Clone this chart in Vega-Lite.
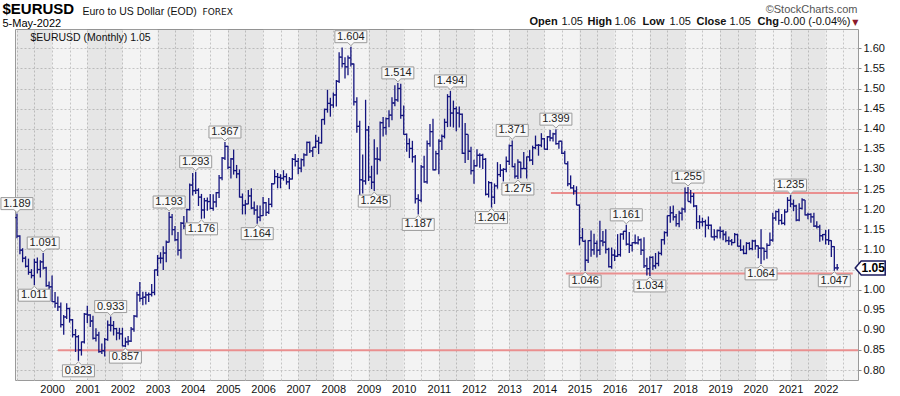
{
"$schema":"https://vega.github.io/schema/vega-lite/v6.json",
"width":843,"height":351,
"autosize":{"type":"none"},
"padding":{"left":15,"top":29,"right":42,"bottom":16},
"background":"#ffffff",
"config":{"view":{"fill":"#f3f3f3","stroke":"#9a9a9a","strokeWidth":1},"font":"Liberation Sans",
 "axis":{"titleAngle":0,"titleBaseline":"alphabetic","titleAlign":"left","titleFont":"Liberation Sans","titleFontSize":11,"titleFontWeight":"normal","titleColor":"#111"}},
"resolve":{"axis":{"x":"independent","y":"independent"}},
"datasets":{
"bands":[{"s":"1999-01-01","e":"2000-01-01"},{"s":"2001-01-01","e":"2002-01-01"},{"s":"2003-01-01","e":"2004-01-01"},{"s":"2005-01-01","e":"2006-01-01"},{"s":"2007-01-01","e":"2008-01-01"},{"s":"2009-01-01","e":"2010-01-01"},{"s":"2011-01-01","e":"2012-01-01"},{"s":"2013-01-01","e":"2014-01-01"},{"s":"2015-01-01","e":"2016-01-01"},{"s":"2017-01-01","e":"2018-01-01"},{"s":"2019-01-01","e":"2020-01-01"},{"s":"2021-01-01","e":"2022-01-01"}],
"trend":[{"s":"2000-03-01","e":"2022-12-03","v":0.849},{"s":"2014-03-10","e":"2022-12-03","v":1.24},{"s":"2014-08-12","e":"2022-10-10","v":1.04}],
"hi":[{"d":"1999-01","v":1.189},{"d":"1999-10","v":1.091},{"d":"2001-09","v":0.933},{"d":"2003-05","v":1.193},{"d":"2004-02","v":1.293},{"d":"2004-12","v":1.367},{"d":"2008-07","v":1.604},{"d":"2009-11","v":1.514},{"d":"2011-05","v":1.494},{"d":"2013-02","v":1.371},{"d":"2014-05","v":1.399},{"d":"2016-05","v":1.161},{"d":"2018-02","v":1.255},{"d":"2021-01","v":1.235}],
"lo":[{"d":"1999-07","v":1.011},{"d":"2000-10","v":0.823},{"d":"2002-02","v":0.857},{"d":"2004-04","v":1.176},{"d":"2005-11","v":1.164},{"d":"2009-03","v":1.245},{"d":"2010-06","v":1.187},{"d":"2012-07","v":1.204},{"d":"2013-04","v":1.275},{"d":"2015-03","v":1.046},{"d":"2017-01","v":1.034},{"d":"2020-03","v":1.064},{"d":"2022-04","v":1.047}],
"last":[{"d":"2022-05","c":1.054}],
"ohlc":[
{"d":"1999-01","o":1.179,"h":1.189,"l":1.128,"c":1.133},
{"d":"1999-02","o":1.133,"h":1.135,"l":1.088,"c":1.098},
{"d":"1999-03","o":1.098,"h":1.103,"l":1.068,"c":1.078},
{"d":"1999-04","o":1.078,"h":1.083,"l":1.055,"c":1.058},
{"d":"1999-05","o":1.058,"h":1.077,"l":1.037,"c":1.043},
{"d":"1999-06","o":1.043,"h":1.051,"l":1.028,"c":1.035},
{"d":"1999-07","o":1.035,"h":1.077,"l":1.011,"c":1.068},
{"d":"1999-08","o":1.068,"h":1.080,"l":1.040,"c":1.050},
{"d":"1999-09","o":1.050,"h":1.073,"l":1.030,"c":1.069},
{"d":"1999-10","o":1.069,"h":1.091,"l":1.050,"c":1.054},
{"d":"1999-11","o":1.054,"h":1.057,"l":1.007,"c":1.010},
{"d":"1999-12","o":1.010,"h":1.020,"l":0.998,"c":1.007},
{"d":"2000-01","o":1.007,"h":1.035,"l":0.969,"c":0.970},
{"d":"2000-02","o":0.970,"h":0.994,"l":0.955,"c":0.966},
{"d":"2000-03","o":0.966,"h":0.983,"l":0.947,"c":0.957},
{"d":"2000-04","o":0.957,"h":0.968,"l":0.906,"c":0.913},
{"d":"2000-05","o":0.913,"h":0.937,"l":0.888,"c":0.932},
{"d":"2000-06","o":0.932,"h":0.966,"l":0.927,"c":0.953},
{"d":"2000-07","o":0.953,"h":0.955,"l":0.918,"c":0.925},
{"d":"2000-08","o":0.925,"h":0.927,"l":0.881,"c":0.888},
{"d":"2000-09","o":0.888,"h":0.902,"l":0.845,"c":0.883},
{"d":"2000-10","o":0.883,"h":0.887,"l":0.823,"c":0.850},
{"d":"2000-11","o":0.850,"h":0.871,"l":0.836,"c":0.870},
{"d":"2000-12","o":0.870,"h":0.942,"l":0.866,"c":0.939},
{"d":"2001-01","o":0.939,"h":0.960,"l":0.917,"c":0.937},
{"d":"2001-02","o":0.937,"h":0.939,"l":0.907,"c":0.922},
{"d":"2001-03","o":0.922,"h":0.935,"l":0.876,"c":0.879},
{"d":"2001-04","o":0.879,"h":0.904,"l":0.871,"c":0.887},
{"d":"2001-05","o":0.887,"h":0.895,"l":0.843,"c":0.846},
{"d":"2001-06","o":0.846,"h":0.866,"l":0.840,"c":0.848},
{"d":"2001-07","o":0.848,"h":0.880,"l":0.834,"c":0.876},
{"d":"2001-08","o":0.876,"h":0.923,"l":0.873,"c":0.912},
{"d":"2001-09","o":0.912,"h":0.933,"l":0.896,"c":0.911},
{"d":"2001-10","o":0.911,"h":0.922,"l":0.886,"c":0.903},
{"d":"2001-11","o":0.903,"h":0.905,"l":0.874,"c":0.892},
{"d":"2001-12","o":0.892,"h":0.905,"l":0.876,"c":0.890},
{"d":"2002-01","o":0.890,"h":0.905,"l":0.859,"c":0.860},
{"d":"2002-02","o":0.860,"h":0.881,"l":0.857,"c":0.870},
{"d":"2002-03","o":0.870,"h":0.885,"l":0.862,"c":0.872},
{"d":"2002-04","o":0.872,"h":0.907,"l":0.870,"c":0.902},
{"d":"2002-05","o":0.902,"h":0.937,"l":0.895,"c":0.934},
{"d":"2002-06","o":0.934,"h":0.995,"l":0.931,"c":0.987},
{"d":"2002-07","o":0.987,"h":1.019,"l":0.970,"c":0.978},
{"d":"2002-08","o":0.978,"h":0.995,"l":0.961,"c":0.981},
{"d":"2002-09","o":0.981,"h":0.995,"l":0.963,"c":0.987},
{"d":"2002-10","o":0.987,"h":0.993,"l":0.969,"c":0.988},
{"d":"2002-11","o":0.988,"h":1.014,"l":0.983,"c":0.993},
{"d":"2002-12","o":0.993,"h":1.050,"l":0.986,"c":1.049},
{"d":"2003-01","o":1.049,"h":1.086,"l":1.034,"c":1.078},
{"d":"2003-02","o":1.078,"h":1.093,"l":1.065,"c":1.078},
{"d":"2003-03","o":1.078,"h":1.108,"l":1.049,"c":1.091},
{"d":"2003-04","o":1.091,"h":1.122,"l":1.068,"c":1.118},
{"d":"2003-05","o":1.118,"h":1.193,"l":1.117,"c":1.180},
{"d":"2003-06","o":1.180,"h":1.188,"l":1.135,"c":1.149},
{"d":"2003-07","o":1.149,"h":1.158,"l":1.120,"c":1.124},
{"d":"2003-08","o":1.124,"h":1.143,"l":1.085,"c":1.098},
{"d":"2003-09","o":1.098,"h":1.168,"l":1.077,"c":1.165},
{"d":"2003-10","o":1.165,"h":1.183,"l":1.150,"c":1.158},
{"d":"2003-11","o":1.158,"h":1.201,"l":1.136,"c":1.199},
{"d":"2003-12","o":1.199,"h":1.264,"l":1.197,"c":1.260},
{"d":"2004-01","o":1.260,"h":1.290,"l":1.234,"c":1.246},
{"d":"2004-02","o":1.246,"h":1.293,"l":1.238,"c":1.247},
{"d":"2004-03","o":1.247,"h":1.252,"l":1.208,"c":1.230},
{"d":"2004-04","o":1.230,"h":1.238,"l":1.176,"c":1.198},
{"d":"2004-05","o":1.198,"h":1.228,"l":1.177,"c":1.221},
{"d":"2004-06","o":1.221,"h":1.229,"l":1.196,"c":1.219},
{"d":"2004-07","o":1.219,"h":1.238,"l":1.200,"c":1.202},
{"d":"2004-08","o":1.202,"h":1.237,"l":1.196,"c":1.218},
{"d":"2004-09","o":1.218,"h":1.243,"l":1.205,"c":1.241},
{"d":"2004-10","o":1.241,"h":1.285,"l":1.228,"c":1.278},
{"d":"2004-11","o":1.278,"h":1.330,"l":1.272,"c":1.327},
{"d":"2004-12","o":1.327,"h":1.367,"l":1.322,"c":1.356},
{"d":"2005-01","o":1.356,"h":1.358,"l":1.299,"c":1.304},
{"d":"2005-02","o":1.304,"h":1.327,"l":1.276,"c":1.325},
{"d":"2005-03","o":1.325,"h":1.348,"l":1.286,"c":1.296},
{"d":"2005-04","o":1.296,"h":1.310,"l":1.277,"c":1.288},
{"d":"2005-05","o":1.288,"h":1.299,"l":1.229,"c":1.230},
{"d":"2005-06","o":1.230,"h":1.239,"l":1.187,"c":1.210},
{"d":"2005-07","o":1.210,"h":1.223,"l":1.187,"c":1.213},
{"d":"2005-08","o":1.213,"h":1.248,"l":1.212,"c":1.233},
{"d":"2005-09","o":1.233,"h":1.252,"l":1.200,"c":1.203},
{"d":"2005-10","o":1.203,"h":1.219,"l":1.186,"c":1.198},
{"d":"2005-11","o":1.198,"h":1.210,"l":1.164,"c":1.180},
{"d":"2005-12","o":1.180,"h":1.209,"l":1.170,"c":1.184},
{"d":"2006-01","o":1.184,"h":1.230,"l":1.183,"c":1.216},
{"d":"2006-02","o":1.216,"h":1.218,"l":1.183,"c":1.192},
{"d":"2006-03","o":1.192,"h":1.228,"l":1.188,"c":1.212},
{"d":"2006-04","o":1.212,"h":1.265,"l":1.205,"c":1.263},
{"d":"2006-05","o":1.263,"h":1.298,"l":1.263,"c":1.281},
{"d":"2006-06","o":1.281,"h":1.290,"l":1.252,"c":1.279},
{"d":"2006-07","o":1.279,"h":1.287,"l":1.252,"c":1.277},
{"d":"2006-08","o":1.277,"h":1.297,"l":1.271,"c":1.281},
{"d":"2006-09","o":1.281,"h":1.289,"l":1.261,"c":1.268},
{"d":"2006-10","o":1.268,"h":1.280,"l":1.250,"c":1.275},
{"d":"2006-11","o":1.275,"h":1.327,"l":1.274,"c":1.324},
{"d":"2006-12","o":1.324,"h":1.337,"l":1.306,"c":1.319},
{"d":"2007-01","o":1.319,"h":1.327,"l":1.287,"c":1.302},
{"d":"2007-02","o":1.302,"h":1.326,"l":1.292,"c":1.323},
{"d":"2007-03","o":1.323,"h":1.339,"l":1.306,"c":1.335},
{"d":"2007-04","o":1.335,"h":1.368,"l":1.333,"c":1.366},
{"d":"2007-05","o":1.366,"h":1.368,"l":1.340,"c":1.345},
{"d":"2007-06","o":1.345,"h":1.354,"l":1.330,"c":1.354},
{"d":"2007-07","o":1.354,"h":1.385,"l":1.352,"c":1.369},
{"d":"2007-08","o":1.369,"h":1.380,"l":1.337,"c":1.365},
{"d":"2007-09","o":1.365,"h":1.424,"l":1.363,"c":1.423},
{"d":"2007-10","o":1.423,"h":1.450,"l":1.410,"c":1.448},
{"d":"2007-11","o":1.448,"h":1.497,"l":1.440,"c":1.463},
{"d":"2007-12","o":1.463,"h":1.477,"l":1.430,"c":1.459},
{"d":"2008-01","o":1.459,"h":1.490,"l":1.452,"c":1.484},
{"d":"2008-02","o":1.484,"h":1.521,"l":1.455,"c":1.518},
{"d":"2008-03","o":1.518,"h":1.590,"l":1.514,"c":1.578},
{"d":"2008-04","o":1.578,"h":1.602,"l":1.552,"c":1.562},
{"d":"2008-05","o":1.562,"h":1.578,"l":1.525,"c":1.554},
{"d":"2008-06","o":1.554,"h":1.582,"l":1.533,"c":1.576},
{"d":"2008-07","o":1.576,"h":1.604,"l":1.555,"c":1.561},
{"d":"2008-08","o":1.561,"h":1.562,"l":1.458,"c":1.467},
{"d":"2008-09","o":1.467,"h":1.478,"l":1.390,"c":1.406},
{"d":"2008-10","o":1.406,"h":1.420,"l":1.233,"c":1.273},
{"d":"2008-11","o":1.273,"h":1.336,"l":1.239,"c":1.270},
{"d":"2008-12","o":1.270,"h":1.472,"l":1.261,"c":1.397},
{"d":"2009-01","o":1.397,"h":1.407,"l":1.270,"c":1.280},
{"d":"2009-02","o":1.280,"h":1.308,"l":1.250,"c":1.267},
{"d":"2009-03","o":1.267,"h":1.374,"l":1.245,"c":1.325},
{"d":"2009-04","o":1.325,"h":1.354,"l":1.286,"c":1.324},
{"d":"2009-05","o":1.324,"h":1.418,"l":1.319,"c":1.415},
{"d":"2009-06","o":1.415,"h":1.429,"l":1.381,"c":1.403},
{"d":"2009-07","o":1.403,"h":1.428,"l":1.385,"c":1.425},
{"d":"2009-08","o":1.425,"h":1.446,"l":1.404,"c":1.434},
{"d":"2009-09","o":1.434,"h":1.478,"l":1.421,"c":1.464},
{"d":"2009-10","o":1.464,"h":1.508,"l":1.456,"c":1.472},
{"d":"2009-11","o":1.472,"h":1.514,"l":1.467,"c":1.500},
{"d":"2009-12","o":1.500,"h":1.512,"l":1.425,"c":1.433},
{"d":"2010-01","o":1.433,"h":1.458,"l":1.385,"c":1.386},
{"d":"2010-02","o":1.386,"h":1.388,"l":1.343,"c":1.363},
{"d":"2010-03","o":1.363,"h":1.376,"l":1.327,"c":1.351},
{"d":"2010-04","o":1.351,"h":1.370,"l":1.316,"c":1.330},
{"d":"2010-05","o":1.330,"h":1.335,"l":1.214,"c":1.226},
{"d":"2010-06","o":1.226,"h":1.237,"l":1.187,"c":1.222},
{"d":"2010-07","o":1.222,"h":1.310,"l":1.217,"c":1.305},
{"d":"2010-08","o":1.305,"h":1.333,"l":1.266,"c":1.268},
{"d":"2010-09","o":1.268,"h":1.371,"l":1.263,"c":1.363},
{"d":"2010-10","o":1.363,"h":1.412,"l":1.355,"c":1.393},
{"d":"2010-11","o":1.393,"h":1.425,"l":1.296,"c":1.298},
{"d":"2010-12","o":1.298,"h":1.345,"l":1.297,"c":1.338},
{"d":"2011-01","o":1.338,"h":1.374,"l":1.287,"c":1.369},
{"d":"2011-02","o":1.369,"h":1.386,"l":1.347,"c":1.381},
{"d":"2011-03","o":1.381,"h":1.425,"l":1.376,"c":1.416},
{"d":"2011-04","o":1.416,"h":1.486,"l":1.404,"c":1.480},
{"d":"2011-05","o":1.480,"h":1.494,"l":1.405,"c":1.439},
{"d":"2011-06","o":1.439,"h":1.470,"l":1.403,"c":1.450},
{"d":"2011-07","o":1.450,"h":1.455,"l":1.394,"c":1.439},
{"d":"2011-08","o":1.439,"h":1.455,"l":1.403,"c":1.436},
{"d":"2011-09","o":1.436,"h":1.438,"l":1.337,"c":1.339},
{"d":"2011-10","o":1.339,"h":1.414,"l":1.315,"c":1.386},
{"d":"2011-11","o":1.386,"h":1.386,"l":1.322,"c":1.344},
{"d":"2011-12","o":1.344,"h":1.355,"l":1.286,"c":1.296},
{"d":"2012-01","o":1.296,"h":1.323,"l":1.263,"c":1.308},
{"d":"2012-02","o":1.308,"h":1.349,"l":1.306,"c":1.334},
{"d":"2012-03","o":1.334,"h":1.339,"l":1.303,"c":1.334},
{"d":"2012-04","o":1.334,"h":1.338,"l":1.300,"c":1.324},
{"d":"2012-05","o":1.324,"h":1.327,"l":1.234,"c":1.237},
{"d":"2012-06","o":1.237,"h":1.270,"l":1.229,"c":1.266},
{"d":"2012-07","o":1.266,"h":1.268,"l":1.204,"c":1.230},
{"d":"2012-08","o":1.230,"h":1.264,"l":1.213,"c":1.258},
{"d":"2012-09","o":1.258,"h":1.317,"l":1.251,"c":1.286},
{"d":"2012-10","o":1.286,"h":1.312,"l":1.280,"c":1.297},
{"d":"2012-11","o":1.297,"h":1.302,"l":1.269,"c":1.299},
{"d":"2012-12","o":1.299,"h":1.331,"l":1.292,"c":1.319},
{"d":"2013-01","o":1.319,"h":1.361,"l":1.310,"c":1.358},
{"d":"2013-02","o":1.358,"h":1.371,"l":1.304,"c":1.306},
{"d":"2013-03","o":1.306,"h":1.314,"l":1.276,"c":1.282},
{"d":"2013-04","o":1.282,"h":1.324,"l":1.275,"c":1.317},
{"d":"2013-05","o":1.317,"h":1.318,"l":1.277,"c":1.301},
{"d":"2013-06","o":1.301,"h":1.342,"l":1.300,"c":1.301},
{"d":"2013-07","o":1.301,"h":1.331,"l":1.276,"c":1.330},
{"d":"2013-08","o":1.330,"h":1.347,"l":1.319,"c":1.322},
{"d":"2013-09","o":1.322,"h":1.358,"l":1.310,"c":1.353},
{"d":"2013-10","o":1.353,"h":1.383,"l":1.349,"c":1.359},
{"d":"2013-11","o":1.359,"h":1.362,"l":1.333,"c":1.359},
{"d":"2013-12","o":1.359,"h":1.389,"l":1.354,"c":1.375},
{"d":"2014-01","o":1.375,"h":1.377,"l":1.348,"c":1.349},
{"d":"2014-02","o":1.349,"h":1.382,"l":1.347,"c":1.380},
{"d":"2014-03","o":1.380,"h":1.397,"l":1.369,"c":1.377},
{"d":"2014-04","o":1.377,"h":1.390,"l":1.368,"c":1.387},
{"d":"2014-05","o":1.387,"h":1.399,"l":1.360,"c":1.363},
{"d":"2014-06","o":1.363,"h":1.370,"l":1.350,"c":1.369},
{"d":"2014-07","o":1.369,"h":1.370,"l":1.337,"c":1.339},
{"d":"2014-08","o":1.339,"h":1.345,"l":1.313,"c":1.313},
{"d":"2014-09","o":1.313,"h":1.319,"l":1.257,"c":1.263},
{"d":"2014-10","o":1.263,"h":1.284,"l":1.251,"c":1.253},
{"d":"2014-11","o":1.253,"h":1.260,"l":1.236,"c":1.245},
{"d":"2014-12","o":1.245,"h":1.257,"l":1.210,"c":1.210},
{"d":"2015-01","o":1.210,"h":1.212,"l":1.110,"c":1.129},
{"d":"2015-02","o":1.129,"h":1.153,"l":1.120,"c":1.120},
{"d":"2015-03","o":1.120,"h":1.124,"l":1.046,"c":1.073},
{"d":"2015-04","o":1.073,"h":1.123,"l":1.066,"c":1.122},
{"d":"2015-05","o":1.122,"h":1.147,"l":1.082,"c":1.099},
{"d":"2015-06","o":1.099,"h":1.139,"l":1.087,"c":1.115},
{"d":"2015-07","o":1.115,"h":1.122,"l":1.080,"c":1.098},
{"d":"2015-08","o":1.098,"h":1.171,"l":1.086,"c":1.121},
{"d":"2015-09","o":1.121,"h":1.146,"l":1.108,"c":1.118},
{"d":"2015-10","o":1.118,"h":1.150,"l":1.090,"c":1.100},
{"d":"2015-11","o":1.100,"h":1.104,"l":1.055,"c":1.057},
{"d":"2015-12","o":1.057,"h":1.105,"l":1.052,"c":1.086},
{"d":"2016-01","o":1.086,"h":1.100,"l":1.071,"c":1.083},
{"d":"2016-02","o":1.083,"h":1.138,"l":1.081,"c":1.087},
{"d":"2016-03","o":1.087,"h":1.140,"l":1.082,"c":1.138},
{"d":"2016-04","o":1.138,"h":1.146,"l":1.124,"c":1.145},
{"d":"2016-05","o":1.145,"h":1.161,"l":1.110,"c":1.113},
{"d":"2016-06","o":1.113,"h":1.143,"l":1.091,"c":1.110},
{"d":"2016-07","o":1.110,"h":1.118,"l":1.095,"c":1.117},
{"d":"2016-08","o":1.117,"h":1.137,"l":1.113,"c":1.116},
{"d":"2016-09","o":1.116,"h":1.133,"l":1.112,"c":1.124},
{"d":"2016-10","o":1.124,"h":1.127,"l":1.086,"c":1.098},
{"d":"2016-11","o":1.098,"h":1.130,"l":1.054,"c":1.059},
{"d":"2016-12","o":1.059,"h":1.079,"l":1.035,"c":1.052},
{"d":"2017-01","o":1.052,"h":1.083,"l":1.034,"c":1.080},
{"d":"2017-02","o":1.080,"h":1.083,"l":1.049,"c":1.059},
{"d":"2017-03","o":1.059,"h":1.091,"l":1.052,"c":1.065},
{"d":"2017-04","o":1.065,"h":1.095,"l":1.058,"c":1.090},
{"d":"2017-05","o":1.090,"h":1.126,"l":1.085,"c":1.124},
{"d":"2017-06","o":1.124,"h":1.145,"l":1.112,"c":1.142},
{"d":"2017-07","o":1.142,"h":1.184,"l":1.132,"c":1.184},
{"d":"2017-08","o":1.184,"h":1.207,"l":1.166,"c":1.191},
{"d":"2017-09","o":1.191,"h":1.209,"l":1.172,"c":1.181},
{"d":"2017-10","o":1.181,"h":1.188,"l":1.157,"c":1.164},
{"d":"2017-11","o":1.164,"h":1.196,"l":1.155,"c":1.190},
{"d":"2017-12","o":1.190,"h":1.204,"l":1.172,"c":1.200},
{"d":"2018-01","o":1.200,"h":1.254,"l":1.192,"c":1.241},
{"d":"2018-02","o":1.241,"h":1.255,"l":1.219,"c":1.219},
{"d":"2018-03","o":1.219,"h":1.248,"l":1.214,"c":1.232},
{"d":"2018-04","o":1.232,"h":1.240,"l":1.205,"c":1.208},
{"d":"2018-05","o":1.208,"h":1.210,"l":1.151,"c":1.169},
{"d":"2018-06","o":1.169,"h":1.185,"l":1.151,"c":1.168},
{"d":"2018-07","o":1.168,"h":1.179,"l":1.157,"c":1.169},
{"d":"2018-08","o":1.169,"h":1.174,"l":1.130,"c":1.160},
{"d":"2018-09","o":1.160,"h":1.182,"l":1.150,"c":1.160},
{"d":"2018-10","o":1.160,"h":1.162,"l":1.130,"c":1.131},
{"d":"2018-11","o":1.131,"h":1.150,"l":1.122,"c":1.132},
{"d":"2018-12","o":1.132,"h":1.149,"l":1.127,"c":1.147},
{"d":"2019-01","o":1.147,"h":1.157,"l":1.127,"c":1.145},
{"d":"2019-02","o":1.145,"h":1.149,"l":1.123,"c":1.137},
{"d":"2019-03","o":1.137,"h":1.145,"l":1.118,"c":1.122},
{"d":"2019-04","o":1.122,"h":1.132,"l":1.111,"c":1.121},
{"d":"2019-05","o":1.121,"h":1.126,"l":1.110,"c":1.117},
{"d":"2019-06","o":1.117,"h":1.141,"l":1.116,"c":1.137},
{"d":"2019-07","o":1.137,"h":1.139,"l":1.107,"c":1.108},
{"d":"2019-08","o":1.108,"h":1.125,"l":1.096,"c":1.099},
{"d":"2019-09","o":1.099,"h":1.110,"l":1.088,"c":1.090},
{"d":"2019-10","o":1.090,"h":1.118,"l":1.088,"c":1.115},
{"d":"2019-11","o":1.115,"h":1.118,"l":1.098,"c":1.102},
{"d":"2019-12","o":1.102,"h":1.124,"l":1.098,"c":1.121},
{"d":"2020-01","o":1.121,"h":1.124,"l":1.099,"c":1.109},
{"d":"2020-02","o":1.109,"h":1.110,"l":1.078,"c":1.103},
{"d":"2020-03","o":1.103,"h":1.150,"l":1.064,"c":1.103},
{"d":"2020-04","o":1.103,"h":1.104,"l":1.073,"c":1.095},
{"d":"2020-05","o":1.095,"h":1.115,"l":1.077,"c":1.110},
{"d":"2020-06","o":1.110,"h":1.142,"l":1.110,"c":1.123},
{"d":"2020-07","o":1.123,"h":1.191,"l":1.119,"c":1.178},
{"d":"2020-08","o":1.178,"h":1.197,"l":1.171,"c":1.194},
{"d":"2020-09","o":1.194,"h":1.201,"l":1.161,"c":1.172},
{"d":"2020-10","o":1.172,"h":1.188,"l":1.162,"c":1.165},
{"d":"2020-11","o":1.165,"h":1.200,"l":1.160,"c":1.193},
{"d":"2020-12","o":1.193,"h":1.230,"l":1.193,"c":1.222},
{"d":"2021-01","o":1.222,"h":1.235,"l":1.205,"c":1.213},
{"d":"2021-02","o":1.213,"h":1.224,"l":1.195,"c":1.208},
{"d":"2021-03","o":1.208,"h":1.211,"l":1.170,"c":1.173},
{"d":"2021-04","o":1.173,"h":1.215,"l":1.170,"c":1.202},
{"d":"2021-05","o":1.202,"h":1.227,"l":1.199,"c":1.223},
{"d":"2021-06","o":1.223,"h":1.223,"l":1.184,"c":1.186},
{"d":"2021-07","o":1.186,"h":1.191,"l":1.175,"c":1.187},
{"d":"2021-08","o":1.187,"h":1.190,"l":1.166,"c":1.181},
{"d":"2021-09","o":1.181,"h":1.191,"l":1.156,"c":1.158},
{"d":"2021-10","o":1.158,"h":1.170,"l":1.152,"c":1.156},
{"d":"2021-11","o":1.156,"h":1.161,"l":1.119,"c":1.134},
{"d":"2021-12","o":1.134,"h":1.138,"l":1.122,"c":1.137},
{"d":"2022-01","o":1.137,"h":1.148,"l":1.112,"c":1.124},
{"d":"2022-02","o":1.124,"h":1.150,"l":1.111,"c":1.122},
{"d":"2022-03","o":1.122,"h":1.123,"l":1.081,"c":1.107},
{"d":"2022-04","o":1.107,"h":1.108,"l":1.047,"c":1.054},
{"d":"2022-05","o":1.054,"h":1.064,"l":1.048,"c":1.054}
]},
"layer":[
{"data":{"name":"bands"},"mark":{"type":"rect","fill":"#000000","opacity":0.05},
 "encoding":{
  "x":{"field":"s","type":"temporal","scale":{"type":"utc","domain":[{"year":1998,"month":12,"date":12,"utc":true},{"year":2022,"month":12,"date":3,"utc":true}]},
   "axis":{"orient":"bottom","tickCount":{"interval":"month","step":6},"labelExpr":"(utcFormat(datum.value,'%m')=='01' && utcFormat(datum.value,'%Y')!='1999') ? utcFormat(datum.value,'%Y') : ''","labelOverlap":false,"labelFlush":false,"labelFontSize":11,"labelFont":"Liberation Sans","labelColor":"#111","labelPadding":3,"ticks":false,"domain":false,"grid":true,"gridColor":"#c4c4c4","gridDash":[2,2],"title":"Euro to US Dollar (EOD)","titleX":67,"titleY":-366,"titleFontSize":10.5}},
  "x2":{"field":"e"}}},
{"data":{"name":"trend"},"mark":{"type":"rule","color":"#ea8f8f","strokeWidth":2},
 "encoding":{
  "x":{"field":"s","type":"temporal","scale":{"type":"utc","domain":[{"year":1998,"month":12,"date":12,"utc":true},{"year":2022,"month":12,"date":3,"utc":true}]},
   "axis":{"orient":"top","labels":false,"ticks":false,"domain":false,"grid":false,"title":"FOREX","titleX":187,"titleY":-15,"titleFont":"DejaVu Sans","titleFontSize":9}},
  "x2":{"field":"e"},
  "y":{"field":"v","type":"quantitative","scale":{"domain":[0.7753,1.648],"zero":false,"nice":false},
   "axis":{"orient":"right","values":[0.8,0.85,0.9,0.95,1.0,1.1,1.15,1.2,1.25,1.3,1.35,1.4,1.45,1.5,1.55,1.6],"format":".2f","labelFontSize":11,"labelFont":"Liberation Sans","labelColor":"#111","labelPadding":2,"ticks":true,"tickSize":3,"tickColor":"#888","domain":false,"grid":false,"title":"Open","titleX":-329,"titleY":-5,"titleFontWeight":"bold"}}}},
{"data":{"name":"ohlc"},"mark":{"type":"rule","color":"#14147e","strokeWidth":1.3},
 "encoding":{
  "x":{"field":"d","type":"temporal","scale":{"type":"utc","domain":[{"year":1998,"month":12,"date":12,"utc":true},{"year":2022,"month":12,"date":3,"utc":true}]},
   "axis":{"orient":"top","labels":false,"ticks":false,"domain":false,"grid":false,"title":"©StockCharts.com","titleX":842,"titleY":-17,"titleAlign":"right","titleColor":"#555"}},
  "y":{"field":"l","type":"quantitative","scale":{"domain":[0.7753,1.648],"zero":false,"nice":false},
   "axis":{"orient":"left","labels":false,"ticks":false,"domain":false,"grid":false,"title":"$EURUSD (Monthly) 1.05","titleX":15,"titleY":11,"titleFontSize":10.5}},
  "y2":{"field":"h"}}},
{"data":{"name":"ohlc"},"mark":{"type":"rule","color":"#14147e","strokeWidth":1.3,"xOffset":-1.8,"x2Offset":0},
 "encoding":{
  "x":{"field":"d","type":"temporal","scale":{"type":"utc","domain":[{"year":1998,"month":12,"date":12,"utc":true},{"year":2022,"month":12,"date":3,"utc":true}]},
   "axis":{"orient":"top","labels":false,"ticks":false,"domain":false,"grid":false,"title":"▼","titleX":843,"titleY":-5,"titleAlign":"right","titleFontSize":8,"titleColor":"#8b1a2b","titleFont":"DejaVu Sans"}},
  "x2":{"field":"d"},
  "y":{"field":"o","type":"quantitative","scale":{"domain":[0.7753,1.648],"zero":false,"nice":false},
   "axis":{"orient":"right","values":[0.8,0.85,0.9,0.95,1.0,1.05,1.1,1.15,1.2,1.25,1.3,1.35,1.4,1.45,1.5,1.55,1.6],"labels":false,"ticks":false,"domain":false,"grid":true,"gridColor":"#c4c4c4","gridDash":[2,2],"title":"1.05","titleX":-297,"titleY":-5}}}},
{"data":{"name":"ohlc"},"mark":{"type":"rule","color":"#14147e","strokeWidth":1.3,"xOffset":0,"x2Offset":1.8},
 "encoding":{
  "x":{"field":"d","type":"temporal","scale":{"type":"utc","domain":[{"year":1998,"month":12,"date":12,"utc":true},{"year":2022,"month":12,"date":3,"utc":true}]},
   "axis":{"orient":"top","labels":false,"ticks":false,"domain":false,"grid":false,"title":"$EURUSD","titleX":-13,"titleY":-16,"titleFontSize":15,"titleFontWeight":"bold","titleColor":"#000"}},
  "x2":{"field":"d"},
  "y":{"field":"c","type":"quantitative","scale":{"domain":[0.7753,1.648],"zero":false,"nice":false},
   "axis":{"orient":"left","labels":false,"ticks":false,"domain":false,"grid":false,"title":"5-May-2022","titleX":-13,"titleY":-3,"titleColor":"#000"}}}},
{"data":{"name":"hi"},"mark":{"type":"point","shape":"M-0.889,-0.889 L0.889,-0.889 L0.889,-0.222 L0.167,-0.222 L0,-0.056 L-0.167,-0.222 L-0.889,-0.222 Z","size":1296,"fill":"#f8f8f8","stroke":"#9a9a9a","strokeWidth":1,"opacity":1},
 "encoding":{
  "x":{"field":"d","type":"temporal","scale":{"type":"utc","domain":[{"year":1998,"month":12,"date":12,"utc":true},{"year":2022,"month":12,"date":3,"utc":true}]},
   "axis":{"orient":"top","labels":false,"ticks":false,"domain":false,"grid":false,"title":"High","titleX":572,"titleY":-5,"titleFontWeight":"bold"}},
  "y":{"field":"v","type":"quantitative","scale":{"domain":[0.7753,1.648],"zero":false,"nice":false},
   "axis":{"orient":"left","labels":false,"ticks":false,"domain":false,"grid":false,"title":"1.06","titleX":599,"titleY":-5}}}},
{"data":{"name":"hi"},"mark":{"type":"text","dy":-10,"fontSize":11,"font":"Liberation Sans","color":"#222","baseline":"middle","align":"center"},
 "encoding":{
  "x":{"field":"d","type":"temporal","scale":{"type":"utc","domain":[{"year":1998,"month":12,"date":12,"utc":true},{"year":2022,"month":12,"date":3,"utc":true}]},
   "axis":{"orient":"top","labels":false,"ticks":false,"domain":false,"grid":false,"title":"Low","titleX":627,"titleY":-5,"titleFontWeight":"bold"}},
  "y":{"field":"v","type":"quantitative","scale":{"domain":[0.7753,1.648],"zero":false,"nice":false},
   "axis":{"orient":"left","labels":false,"ticks":false,"domain":false,"grid":false,"title":"1.05","titleX":654,"titleY":-5}},
  "text":{"field":"v","type":"quantitative","format":".3f"}}},
{"data":{"name":"lo"},"mark":{"type":"point","shape":"M-0.889,0.889 L0.889,0.889 L0.889,0.222 L0.167,0.222 L0,0.056 L-0.167,0.222 L-0.889,0.222 Z","size":1296,"fill":"#f8f8f8","stroke":"#9a9a9a","strokeWidth":1,"opacity":1},
 "encoding":{
  "x":{"field":"d","type":"temporal","scale":{"type":"utc","domain":[{"year":1998,"month":12,"date":12,"utc":true},{"year":2022,"month":12,"date":3,"utc":true}]},
   "axis":{"orient":"top","labels":false,"ticks":false,"domain":false,"grid":false,"title":"Close","titleX":681,"titleY":-5,"titleFontWeight":"bold"}},
  "y":{"field":"v","type":"quantitative","scale":{"domain":[0.7753,1.648],"zero":false,"nice":false},
   "axis":{"orient":"left","labels":false,"ticks":false,"domain":false,"grid":false,"title":"1.05","titleX":714,"titleY":-5}}}},
{"data":{"name":"lo"},"mark":{"type":"text","dy":10,"fontSize":11,"font":"Liberation Sans","color":"#222","baseline":"middle","align":"center"},
 "encoding":{
  "x":{"field":"d","type":"temporal","scale":{"type":"utc","domain":[{"year":1998,"month":12,"date":12,"utc":true},{"year":2022,"month":12,"date":3,"utc":true}]},
   "axis":{"orient":"top","labels":false,"ticks":false,"domain":false,"grid":false,"title":"Chg","titleX":742,"titleY":-5,"titleFontWeight":"bold"}},
  "y":{"field":"v","type":"quantitative","scale":{"domain":[0.7753,1.648],"zero":false,"nice":false},
   "axis":{"orient":"left","labels":false,"ticks":false,"domain":false,"grid":false,"title":"-0.00 (-0.04%)","titleX":835,"titleY":-5,"titleAlign":"right"}},
  "text":{"field":"v","type":"quantitative","format":".3f"}}},
{"data":{"name":"last"},"mark":{"type":"point","shape":"M-1.125,0 L-0.75,-0.4375 L0.75,-0.4375 L0.75,0.4375 L-0.75,0.4375 Z","size":1024,"fill":"#ffffff","stroke":"#1a1a5e","strokeWidth":1.5,"opacity":1,"xOffset":36},
 "encoding":{
  "x":{"field":"d","type":"temporal","scale":{"type":"utc","domain":[{"year":1998,"month":12,"date":12,"utc":true},{"year":2022,"month":12,"date":3,"utc":true}]},"axis":null},
  "y":{"field":"c","type":"quantitative","scale":{"domain":[0.7753,1.648],"zero":false,"nice":false},"axis":null}}},
{"data":{"name":"last"},"mark":{"type":"text","dx":36,"fontSize":12,"fontWeight":"bold","font":"Liberation Sans","color":"#000","baseline":"middle","align":"center"},
 "encoding":{
  "x":{"field":"d","type":"temporal","scale":{"type":"utc","domain":[{"year":1998,"month":12,"date":12,"utc":true},{"year":2022,"month":12,"date":3,"utc":true}]},"axis":null},
  "y":{"field":"c","type":"quantitative","scale":{"domain":[0.7753,1.648],"zero":false,"nice":false},"axis":null},
  "text":{"field":"c","type":"quantitative","format":".2f"}}}
]
}
